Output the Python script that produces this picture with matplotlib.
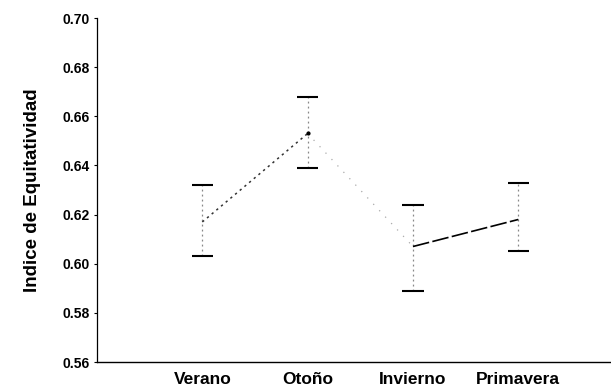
import numpy as np
import matplotlib.pyplot as plt

# Seasonal evenness index: mean with upper / lower interval limits
estaciones = ["Verano", "Otoño", "Invierno", "Primavera"]
media = [0.617, 0.653, 0.607, 0.618]
limite_sup = [0.632, 0.668, 0.624, 0.633]
limite_inf = [0.603, 0.639, 0.589, 0.605]

plt.rcParams["font.family"] = ["Liberation Sans", "DejaVu Sans"]
plt.rcParams["font.weight"] = "bold"

fig = plt.figure(figsize=(6.11, 3.89), dpi=100)
ax = fig.add_axes([97 / 611, 27 / 389, 1 - 97 / 611, (362 - 18) / 389])

x = np.arange(len(estaciones))
media = np.array(media)
sup = np.array(limite_sup)
inf = np.array(limite_inf)

# vertical interval lines (dotted, faint) and caps
ax.vlines(x, inf, sup, colors="#888888", linestyles=(0, (1.5, 2.5)), lw=0.9)
ax.hlines(sup, x - 0.1, x + 0.1, colors="black", lw=1.5)
ax.hlines(inf, x - 0.1, x + 0.1, colors="black", lw=1.5)

# connecting line, each segment with its own stroke
seg_styles = [
    dict(color="#333333", ls=(0, (1.5, 2.5)), lw=1.1),
    dict(color="#aaaaaa", ls=(0, (1, 6)), lw=0.9),
    dict(color="black", ls=(0, (10, 2)), lw=1.2),
]
for i, st in enumerate(seg_styles):
    ax.plot(x[i:i + 2], media[i:i + 2], **st)
ax.plot(x[1], media[1], "o", color="black", ms=2)

ax.set_xlim(-1.0, 3.88)
ax.set_ylim(0.56, 0.70)
ax.set_yticks(np.arange(0.56, 0.701, 0.02))
ax.set_yticklabels([f"{v:.2f}" for v in np.arange(0.56, 0.701, 0.02)],
                   fontsize=10, fontweight="bold")
ax.set_xticks(x)
ax.set_xticklabels(estaciones, fontsize=12.5, fontweight="bold")
ax.tick_params(axis="x", length=0, pad=7)
ax.tick_params(axis="y", length=2, width=0.8, pad=3)

ax.spines["top"].set_visible(False)
ax.spines["right"].set_visible(False)
ax.spines["left"].set_linewidth(0.9)
ax.spines["left"].set_linestyle((0, (6, 1)))
ax.spines["bottom"].set_linewidth(1.0)

ax.set_ylabel("Indice de Equitatividad", fontsize=13.5, fontweight="bold", labelpad=16)

fig.savefig("out.png", dpi=100)
